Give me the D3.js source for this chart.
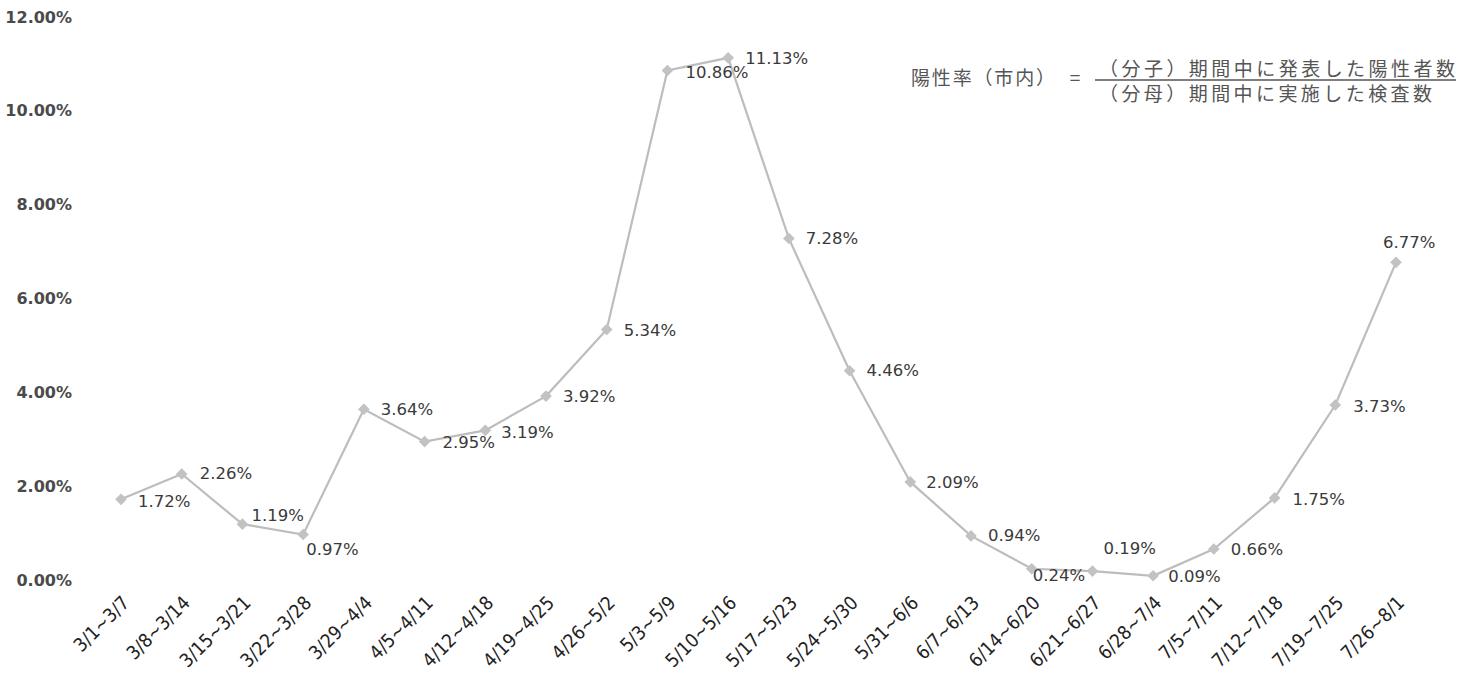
<!DOCTYPE html>
<html><head><meta charset="utf-8">
<script src="https://cdn.jsdelivr.net/npm/d3@7"></script>
<style>
html,body{margin:0;padding:0;background:#fff;}
svg{display:block;}
</style></head>
<body>
<svg id="chart" width="1474" height="686"></svg>
<script>
// ---- data ----
const categories = ["3/1~3/7","3/8~3/14","3/15~3/21","3/22~3/28","3/29~4/4","4/5~4/11","4/12~4/18","4/19~4/25","4/26~5/2","5/3~5/9","5/10~5/16","5/17~5/23","5/24~5/30","5/31~6/6","6/7~6/13","6/14~6/20","6/21~6/27","6/28~7/4","7/5~7/11","7/12~7/18","7/19~7/25","7/26~8/1"];
const positivityRate = [1.72,2.26,1.19,0.97,3.64,2.95,3.19,3.92,5.34,10.86,11.13,7.28,4.46,2.09,0.94,0.24,0.19,0.09,0.66,1.75,3.73,6.77];
const yTicks = [0,2,4,6,8,10,12];
const formulaLeft = "陽性率（市内）";
const formulaEq = "=";
const formulaNumerator = "（分子）期間中に発表した陽性者数";
const formulaDenominator = "（分母）期間中に実施した検査数";

// ---- layout (label offsets in px, not data) ----
const labelOffsets = [[17,2],[18,0],[9,-9],[3,15],[17,0],[18,1],[16,2],[17,0],[17,1],[18,2],[17,1],[17,0],[17,0],[16,1],[17,0],[1,7],[11,-23],[15,1],[17,0],[18,2],[18,1],[-13,-20]];

const svg = d3.select("#chart");
const x = d3.scalePoint().domain(categories).range([121,1396]);
const y = d3.scaleLinear().domain([0,12]).range([580,17]);

// y axis labels (no axis line)
const yAxis = d3.axisLeft(y).tickValues(yTicks).tickSize(0).tickPadding(0)
  .tickFormat(d => d.toFixed(2) + "%");
const gy = svg.append("g").attr("transform","translate(72,0)").call(yAxis);
gy.select(".domain").remove();
gy.selectAll("text").attr("font-family","'DejaVu Sans',sans-serif").attr("font-size",16)
  .attr("font-weight","bold").attr("fill","#4a4a4a");

// x axis labels
const xAxis = d3.axisBottom(x).tickSize(0).tickPadding(0);
const gx = svg.append("g").call(xAxis);
gx.select(".domain").remove();
gx.selectAll(".tick text")
  .attr("transform","translate(9,604) rotate(-45)")
  .attr("y",0).attr("dy","0").attr("text-anchor","end")
  .attr("font-family","'Liberation Sans Narrow','DejaVu Sans Condensed',sans-serif")
  .attr("font-size",19).attr("fill","#222");

// line
const line = d3.line().x((d,i)=>x(categories[i])).y(d=>y(d));
svg.append("path").datum(positivityRate).attr("d",line)
  .attr("fill","none").attr("stroke","#bdbdbd").attr("stroke-width",2.2);

// markers
const sym = d3.symbol().type(d3.symbolSquare).size(68);
svg.append("g").selectAll("path").data(positivityRate).join("path")
  .attr("d",sym())
  .attr("transform",(d,i)=>`translate(${x(categories[i])},${y(d)}) rotate(45)`)
  .attr("fill","#c2c2c2");

// data labels
svg.append("g").selectAll("text").data(positivityRate).join("text")
  .attr("x",(d,i)=>x(categories[i])+labelOffsets[i][0])
  .attr("y",(d,i)=>y(d)+labelOffsets[i][1])
  .attr("dominant-baseline","central")
  .attr("font-family","'DejaVu Sans',sans-serif").attr("font-size",16.5)
  .attr("fill","#3a3a3a")
  .text(d=>d.toFixed(2)+"%");

// formula
const jp = "'Noto Sans CJK JP','Noto Sans CJK SC',sans-serif";
const fg = svg.append("g").attr("fill","#555").attr("font-family",jp).attr("font-size",19);
fg.append("text").attr("x",911).attr("y",76).attr("dominant-baseline","central")
  .attr("textLength",144).attr("lengthAdjust","spacing").text(formulaLeft);
fg.append("text").attr("x",1075).attr("y",76).attr("dominant-baseline","central")
  .attr("text-anchor","middle").text(formulaEq);
fg.append("text").attr("x",1099).attr("y",67).attr("dominant-baseline","central")
  .attr("textLength",356).attr("lengthAdjust","spacing").text(formulaNumerator);
fg.append("line").attr("x1",1095).attr("x2",1456).attr("y1",80).attr("y2",80)
  .attr("stroke","#555").attr("stroke-width",1.3);
fg.append("text").attr("x",1099).attr("y",92).attr("dominant-baseline","central")
  .attr("textLength",333).attr("lengthAdjust","spacing").text(formulaDenominator);
</script>
</body></html>
